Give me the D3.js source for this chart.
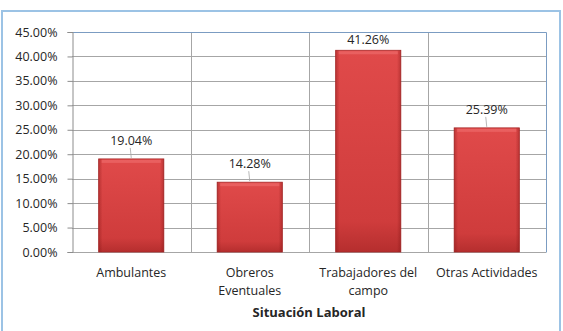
<!DOCTYPE html>
<html>
<head>
<meta charset="utf-8">
<script src="https://cdn.jsdelivr.net/npm/d3@7"></script>
<style>
  body { margin: 0; background: #fff; }
  text { font-family: "Open Sans", "Noto Sans", sans-serif; fill: #262626; }
</style>
</head>
<body>
<div class="chart"></div>
<script>
//Data
var categories = [["Ambulantes"], ["Obreros", "Eventuales"], ["Trabajadores del", "campo"], ["Otras Actividades"]];
var values = [19.04, 14.28, 41.26, 25.39];
var tickValues = [0, 5, 10, 15, 20, 25, 30, 35, 40, 45];
var axisTitle = "Situación Laboral";

//Width and height
var w = 563;
var h = 331;
var margin = {top: 32, right: 17, bottom: 79, left: 72};

var svg = d3.select(".chart")
    .append("svg")
    .attr("width", w)
    .attr("height", h);

//Gradients for the bars
var defs = svg.append("defs");
var vg = defs.append("linearGradient").attr("id", "barV")
    .attr("x1", 0).attr("y1", 0).attr("x2", 0).attr("y2", 1);
vg.append("stop").attr("offset", "0%").attr("stop-color", "#e04a4a");
vg.append("stop").attr("offset", "85%").attr("stop-color", "#cf3c3c");
vg.append("stop").attr("offset", "100%").attr("stop-color", "#b52e2e");
var hg = defs.append("linearGradient").attr("id", "barH")
    .attr("x1", 0).attr("y1", 0).attr("x2", 1).attr("y2", 0);
hg.append("stop").attr("offset", "0%").attr("stop-color", "#7a1010").attr("stop-opacity", 0.35);
hg.append("stop").attr("offset", "6%").attr("stop-color", "#7a1010").attr("stop-opacity", 0);
hg.append("stop").attr("offset", "94%").attr("stop-color", "#7a1010").attr("stop-opacity", 0);
hg.append("stop").attr("offset", "100%").attr("stop-color", "#7a1010").attr("stop-opacity", 0.35);

//Outer border
svg.append("rect")
    .attr("x", 2).attr("y", 11)
    .attr("width", 558).attr("height", 330)
    .attr("fill", "none")
    .attr("stroke", "#9cc3e5")
    .attr("stroke-width", 2);

//Scales
var x = d3.scaleBand()
    .domain(d3.range(categories.length))
    .range([margin.left, w - margin.right])
    .paddingInner(0)
    .paddingOuter(0);

var y = d3.scaleLinear()
    .domain([0, 45])
    .range([h - margin.bottom, margin.top]);

//Horizontal gridlines
svg.append("g")
    .selectAll("line")
    .data(tickValues)
    .join("line")
    .attr("x1", margin.left)
    .attr("x2", w - margin.right)
    .attr("y1", d => Math.round(y(d)) + 0.5)
    .attr("y2", d => Math.round(y(d)) + 0.5)
    .attr("stroke", "#a6a6a6");

//Vertical gridlines between categories
svg.append("g")
    .selectAll("line")
    .data(d3.range(1, categories.length))
    .join("line")
    .attr("x1", d => Math.round(x(d)) + 0.5)
    .attr("x2", d => Math.round(x(d)) + 0.5)
    .attr("y1", margin.top)
    .attr("y2", h - margin.bottom)
    .attr("stroke", "#a6a6a6");

//Plot area border (top/right bluish)
svg.append("path")
    .attr("d", "M" + (margin.left + 0.5) + "," + (Math.round(y(45)) + 0.5) +
        "H" + (Math.round(w - margin.right) + 0.5) +
        "V" + (Math.round(y(0)) + 0.5))
    .attr("fill", "none")
    .attr("stroke", "#7b9cc2");

//Y axis
svg.append("g")
    .attr("transform", "translate(" + (margin.left + 0.5) + ",0)")
    .call(d3.axisLeft(y)
        .tickValues(tickValues)
        .tickFormat(d => d3.format(".2f")(d) + "%")
        .tickSize(5)
        .tickPadding(10))
    .call(g => g.select(".domain").attr("stroke", "#8c8c8c"))
    .call(g => g.selectAll(".tick line").attr("stroke", "#8c8c8c"))
    .call(g => g.selectAll(".tick text")
        .style("font-size", "12.5px")
        .style("font-family", "'Open Sans', sans-serif")
        .attr("fill", "#262626"));

//Bars
var bw = x.bandwidth() * 0.55;
var bars = svg.append("g")
    .selectAll("g")
    .data(values)
    .join("g");

bars.append("rect")
    .attr("x", (d, i) => x(i) + (x.bandwidth() - bw) / 2)
    .attr("y", d => y(d))
    .attr("width", bw)
    .attr("height", d => y(0) - y(d))
    .attr("fill", "url(#barV)")
    .attr("stroke", "#a82a2a")
    .attr("stroke-width", 0.8);

bars.append("rect")
    .attr("x", (d, i) => x(i) + (x.bandwidth() - bw) / 2)
    .attr("y", d => y(d))
    .attr("width", bw)
    .attr("height", d => y(0) - y(d))
    .attr("fill", "url(#barH)");

//Top highlight of the bevel
bars.append("rect")
    .attr("x", (d, i) => x(i) + (x.bandwidth() - bw) / 2 + 3)
    .attr("y", d => y(d) + 1)
    .attr("width", bw - 6)
    .attr("height", 3)
    .attr("fill", "#ec6a6a")
    .attr("opacity", 0.7);

//Leader lines
bars.append("line")
    .attr("x1", (d, i) => x(i) + x.bandwidth() / 2 - 1)
    .attr("x2", (d, i) => x(i) + x.bandwidth() / 2)
    .attr("y1", d => y(d) - 11)
    .attr("y2", d => y(d) - 1)
    .attr("stroke", "#a6a6a6")
    .attr("stroke-width", 0.8)
    .attr("opacity", d => d > 40 ? 0 : 1);

//Value labels
bars.append("text")
    .attr("x", (d, i) => x(i) + x.bandwidth() / 2)
    .attr("y", d => d > 40 ? y(d) - 6 : y(d) - 14)
    .attr("text-anchor", "middle")
    .style("font-size", "12.5px")
    .text(d => d3.format(".2f")(d) + "%");

//Category labels
var cat = svg.append("g")
    .selectAll("text")
    .data(categories)
    .join("text")
    .attr("text-anchor", "middle")
    .attr("x", (d, i) => x(i) + x.bandwidth() / 2)
    .attr("y", 277)
    .style("font-size", "12.5px");

cat.selectAll("tspan")
    .data(d => d)
    .join("tspan")
    .attr("x", function () { return d3.select(this.parentNode).attr("x"); })
    .attr("dy", (d, i) => i === 0 ? 0 : 18)
    .text(d => d);

//Axis title
svg.append("text")
    .attr("x", 309)
    .attr("y", 317)
    .attr("text-anchor", "middle")
    .style("font-size", "13px")
    .style("font-weight", "bold")
    .attr("fill", "#000")
    .text(axisTitle);
</script>
</body>
</html>
